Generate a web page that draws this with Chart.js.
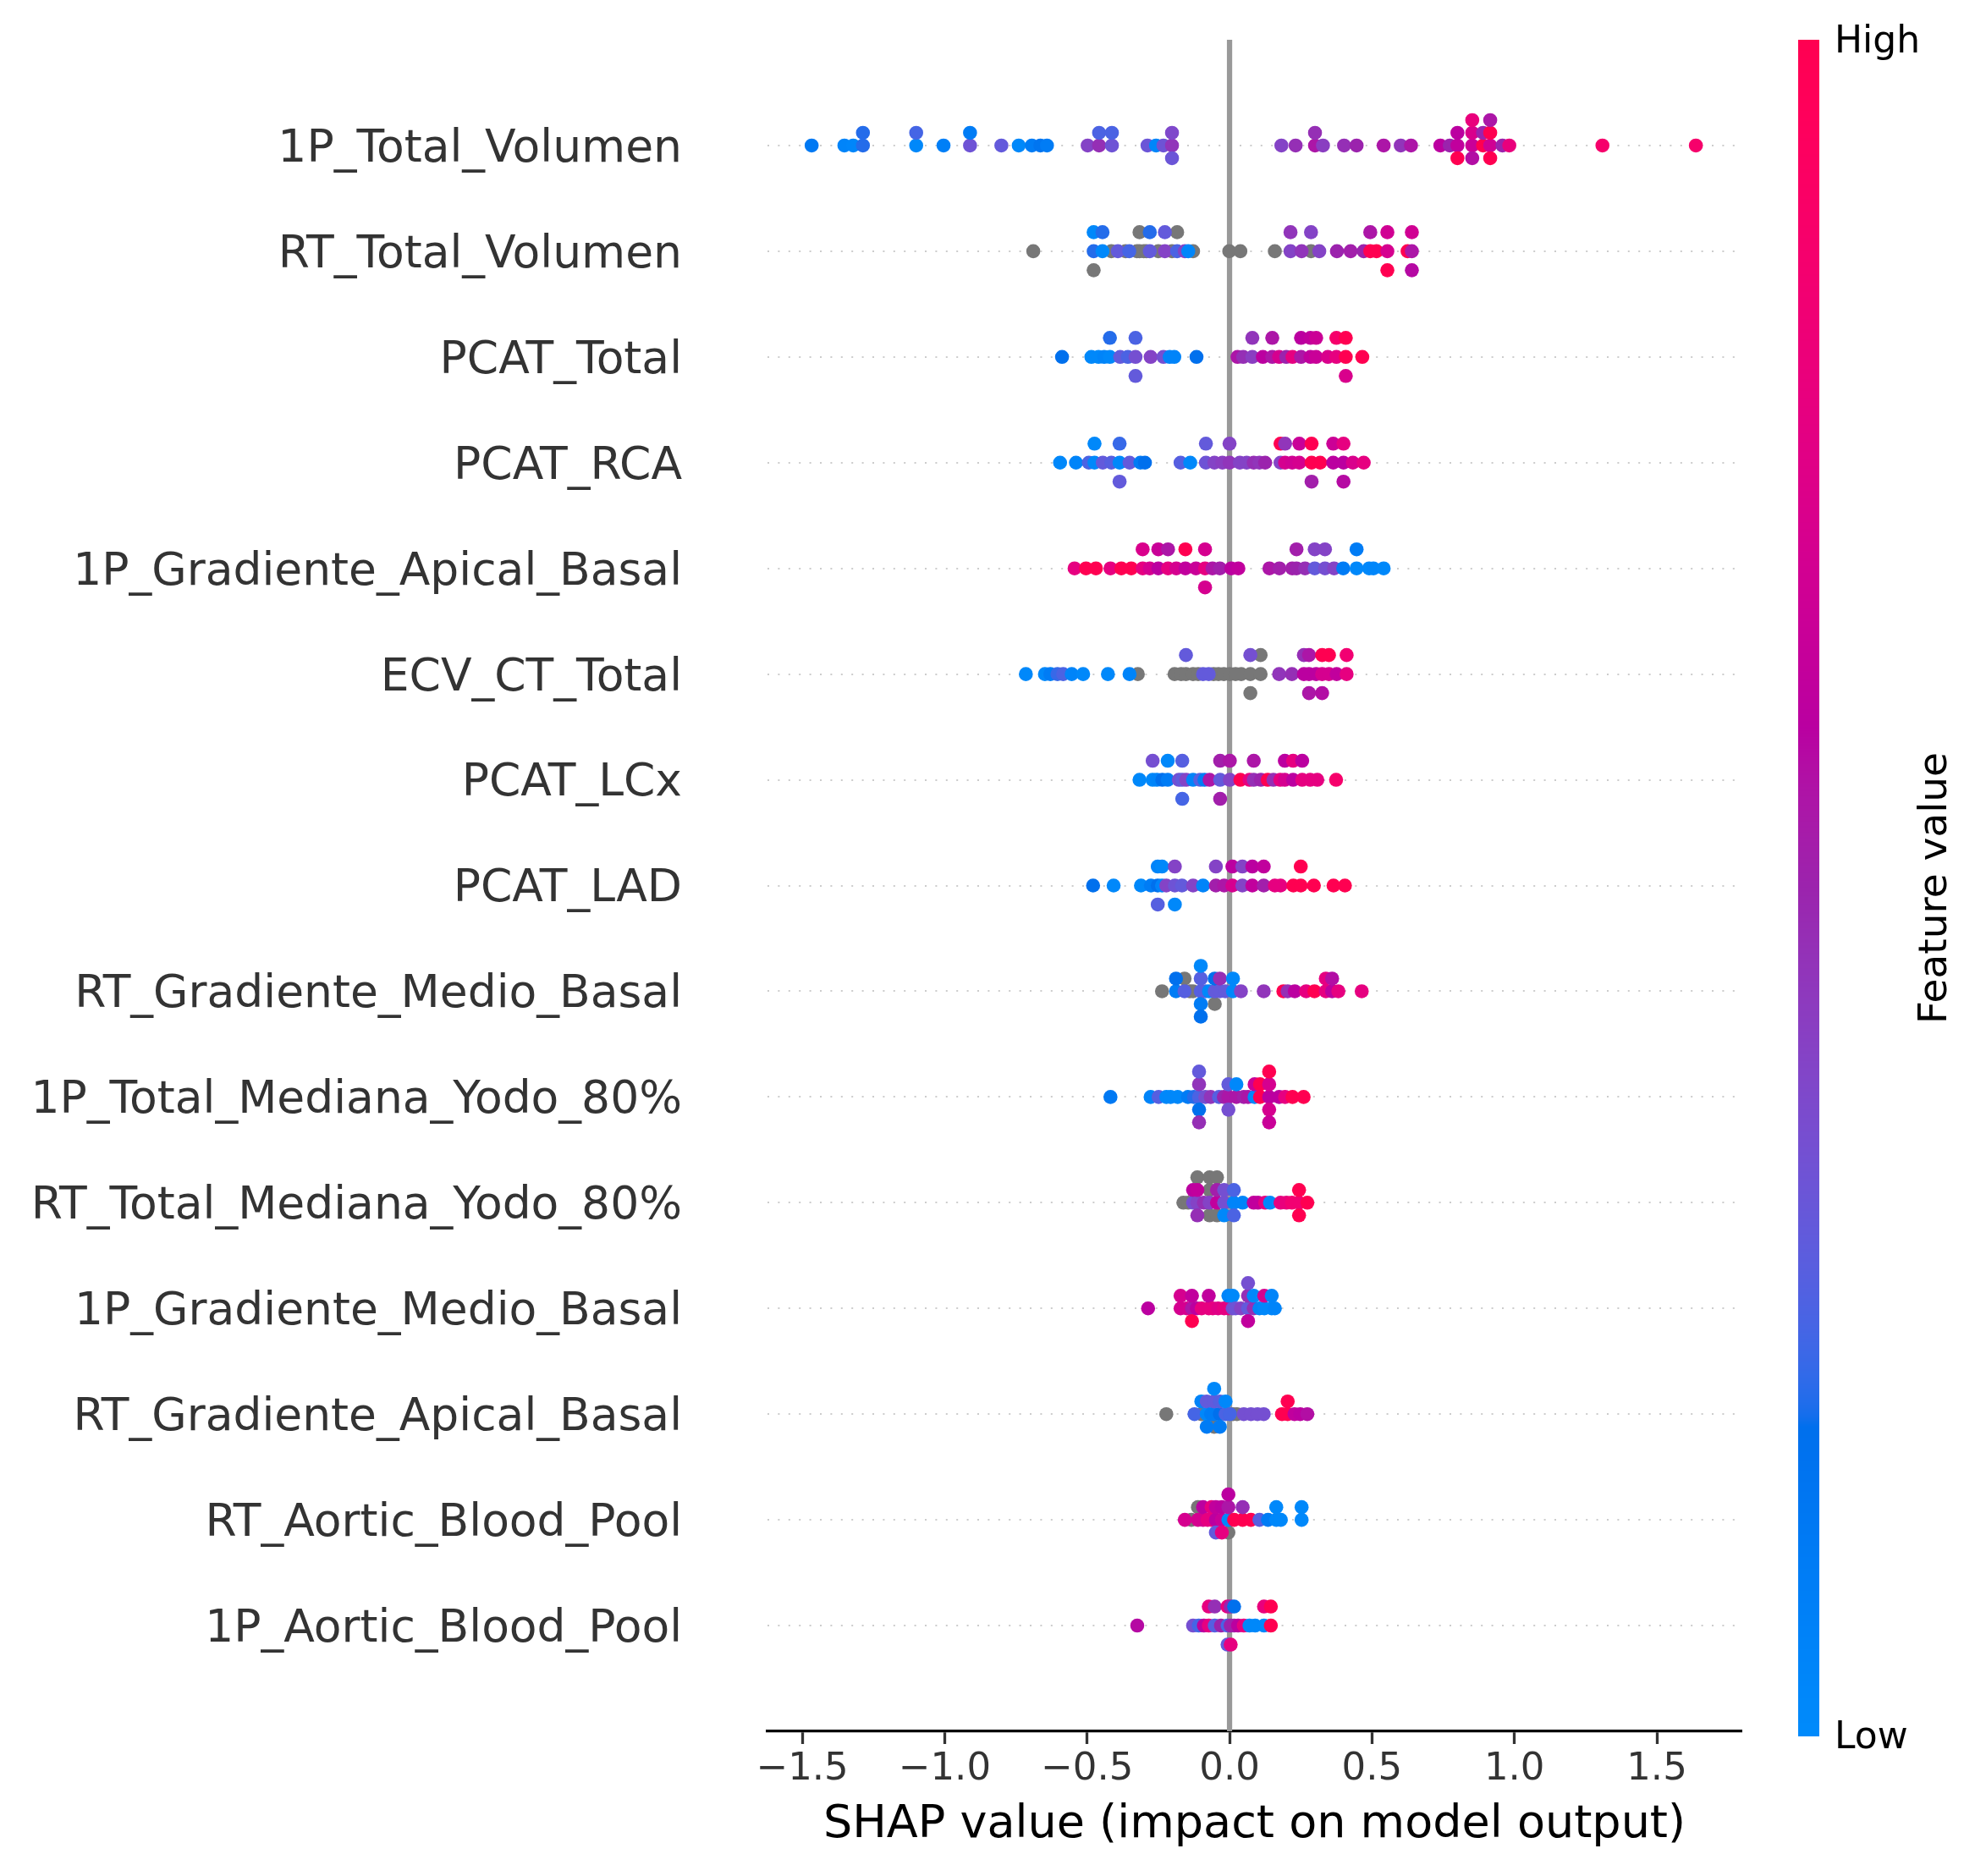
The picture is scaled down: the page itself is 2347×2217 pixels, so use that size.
<!DOCTYPE html>
<html>
<head>
<meta charset="utf-8">
<script src="https://cdn.jsdelivr.net/npm/chart.js@4.4.1/dist/chart.umd.min.js"></script>
<style>
html,body{margin:0;padding:0;background:#ffffff;}
canvas{display:block;}
</style>
</head>
<body>
<canvas id="c" width="2347" height="2217" style="width:2347px;height:2217px"></canvas>
<script>
// ---------------- DATA ----------------
const features = [
  "1P_Total_Volumen", "RT_Total_Volumen", "PCAT_Total", "PCAT_RCA",
  "1P_Gradiente_Apical_Basal", "ECV_CT_Total", "PCAT_LCx", "PCAT_LAD",
  "RT_Gradiente_Medio_Basal", "1P_Total_Mediana_Yodo_80%", "RT_Total_Mediana_Yodo_80%",
  "1P_Gradiente_Medio_Basal", "RT_Gradiente_Apical_Basal", "RT_Aortic_Blood_Pool",
  "1P_Aortic_Blood_Pool"
];
const xTicks = [-1.5, -1.0, -0.5, 0.0, 0.5, 1.0, 1.5];
const xLabel = "SHAP value (impact on model output)";
const colorbarLabels = {high: "High", low: "Low", title: "Feature value"};

// SHAP values per feature (one point per sample) and normalised feature values (null = missing -> gray)
const shap_1P_Total_Volumen = [-1.467, -1.352, -1.321, -1.287, -1.287, -1.100, -1.100, -1.004, -0.911, -0.911, -0.801, -0.740, -0.694, -0.664, -0.641, -0.498, -0.458, -0.458, -0.413, -0.413, -0.288, -0.258, -0.232, -0.202, -0.202, -0.202, 0.182, 0.232, 0.300, 0.300, 0.328, 0.402, 0.446, 0.541, 0.601, 0.637, 0.740, 0.773, 0.800, 0.800, 0.800, 0.852, 0.852, 0.852, 0.852, 0.890, 0.890, 0.915, 0.915, 0.915, 0.915, 0.958, 0.982, 1.309, 1.637];
const feat_1P_Total_Volumen = [0.12, 0.05, 0.03, 0.2, 0.2, 0.02, 0.24, 0.08, 0.33, 0.1, 0.3, 0.02, 0.1, 0.15, 0.1, 0.4, 0.47, 0.25, 0.33, 0.25, 0.32, 0.03, 0.33, 0.45, 0.38, 0.32, 0.4, 0.47, 0.55, 0.47, 0.42, 0.47, 0.5, 0.55, 0.45, 0.55, 0.6, 0.5, 0.62, 0.6, 1.0, 0.65, 0.72, 0.57, 0.8, 1.0, 0.5, 0.68, 1.0, 1.0, 0.55, 0.5, 0.8, 0.88, 0.88];

const shap_RT_Total_Volumen = [-0.689, -0.477, -0.477, -0.477, -0.446, -0.446, -0.415, -0.392, -0.365, -0.352, -0.325, -0.316, -0.316, -0.301, -0.292, -0.280, -0.280, -0.250, -0.227, -0.227, -0.202, -0.184, -0.184, -0.157, -0.145, -0.128, -0.001, 0.038, 0.159, 0.214, 0.214, 0.253, 0.286, 0.286, 0.315, 0.377, 0.425, 0.471, 0.494, 0.494, 0.516, 0.554, 0.554, 0.554, 0.625, 0.640, 0.640, 0.640];
const feat_RT_Total_Volumen = [null, 0.2, 0.02, null, 0.02, 0.2, null, 0.3, null, 0.24, null, null, null, null, null, 0.3, 0.2, null, 0.4, 0.3, null, 0.25, null, 0.4, 0.03, null, null, null, null, 0.4, 0.45, 0.45, null, 0.4, 0.4, 0.5, 0.52, 0.5, 1.0, 0.55, 1.0, 0.7, 0.68, 1.0, 1.0, 0.55, 0.68, 0.58];

const shap_PCAT_Total = [-0.588, -0.485, -0.460, -0.440, -0.420, -0.420, -0.384, -0.357, -0.330, -0.330, -0.330, -0.277, -0.232, -0.210, -0.194, -0.116, 0.028, 0.048, 0.080, 0.080, 0.117, 0.150, 0.150, 0.174, 0.199, 0.221, 0.251, 0.251, 0.284, 0.284, 0.304, 0.304, 0.345, 0.375, 0.375, 0.408, 0.408, 0.408, 0.466];
const feat_PCAT_Total = [0.18, 0.02, 0.02, 0.05, 0.02, 0.2, 0.3, 0.25, 0.35, 0.25, 0.3, 0.4, 0.35, 0.05, 0.05, 0.18, 0.55, 0.47, 0.42, 0.45, 0.6, 0.55, 0.55, 0.7, 0.5, 0.78, 0.55, 0.6, 0.62, 0.62, 0.65, 0.66, 0.72, 0.78, 0.88, 1.0, 1.0, 0.72, 1.0];

const shap_PCAT_RCA = [-0.595, -0.539, -0.494, -0.474, -0.474, -0.445, -0.415, -0.386, -0.386, -0.386, -0.351, -0.313, -0.297, -0.172, -0.138, -0.083, -0.083, -0.053, -0.025, 0.000, 0.000, 0.036, 0.060, 0.085, 0.105, 0.125, 0.179, 0.179, 0.195, 0.195, 0.220, 0.245, 0.245, 0.288, 0.288, 0.288, 0.318, 0.364, 0.364, 0.400, 0.400, 0.400, 0.433, 0.471];
const feat_PCAT_RCA = [0.02, 0.05, 0.25, 0.02, 0.02, 0.3, 0.27, 0.02, 0.22, 0.3, 0.3, 0.1, 0.18, 0.27, 0.02, 0.33, 0.3, 0.4, 0.42, 0.45, 0.4, 0.4, 0.4, 0.47, 0.45, 0.5, 0.4, 1.0, 0.7, 0.45, 0.68, 0.7, 0.65, 1.0, 1.0, 0.52, 1.0, 0.6, 0.66, 0.6, 0.78, 0.58, 0.72, 0.78];

const shap_1P_Gradiente_Apical_Basal = [-0.544, -0.504, -0.469, -0.418, -0.380, -0.345, -0.305, -0.305, -0.280, -0.250, -0.250, -0.216, -0.216, -0.187, -0.155, -0.155, -0.118, -0.086, -0.086, -0.086, -0.060, -0.034, 0.006, 0.031, 0.140, 0.175, 0.220, 0.235, 0.235, 0.265, 0.299, 0.299, 0.335, 0.335, 0.367, 0.399, 0.446, 0.446, 0.490, 0.505, 0.541];
const feat_1P_Gradiente_Apical_Basal = [0.78, 1.0, 1.0, 0.78, 1.0, 1.0, 0.78, 0.72, 0.7, 0.6, 0.65, 0.78, 0.55, 0.7, 0.62, 1.0, 0.65, 0.78, 0.7, 0.7, 0.55, 0.52, 0.6, 0.62, 0.55, 0.52, 0.52, 0.5, 0.52, 0.47, 0.3, 0.4, 0.35, 0.4, 0.4, 0.1, 0.02, 0.1, 0.02, 0.03, 0.02];

const shap_ECV_CT_Total = [-0.715, -0.648, -0.629, -0.604, -0.584, -0.554, -0.514, -0.427, -0.351, -0.322, -0.193, -0.170, -0.153, -0.153, -0.128, -0.110, -0.093, -0.073, -0.056, -0.039, -0.020, 0.001, 0.021, 0.041, 0.073, 0.073, 0.073, 0.109, 0.109, 0.174, 0.219, 0.261, 0.261, 0.279, 0.279, 0.279, 0.304, 0.325, 0.325, 0.325, 0.349, 0.349, 0.376, 0.411, 0.411];
const feat_ECV_CT_Total = [0.02, 0.02, 0.1, 0.22, 0.25, 0.05, 0.02, 0.02, 0.05, null, null, null, null, 0.3, null, null, 0.3, 0.3, null, null, null, null, null, null, null, 0.35, null, null, null, 0.45, 0.47, 0.6, 0.47, 0.6, 0.55, 0.55, 0.6, 0.7, 1.0, 0.57, 0.7, 1.0, 0.62, 0.78, 0.85];

const shap_PCAT_LCx = [-0.316, -0.270, -0.270, -0.255, -0.236, -0.217, -0.217, -0.178, -0.166, -0.166, -0.166, -0.152, -0.128, -0.103, -0.088, -0.070, -0.033, -0.033, -0.033, 0.001, 0.001, 0.038, 0.070, 0.085, 0.085, 0.110, 0.134, 0.154, 0.178, 0.194, 0.194, 0.223, 0.223, 0.255, 0.255, 0.283, 0.308, 0.374];
const feat_PCAT_LCx = [0.02, 0.02, 0.35, 0.05, 0.18, 0.1, 0.02, 0.35, 0.3, 0.27, 0.24, 0.4, 0.05, 0.27, 0.1, 0.55, 0.3, 0.52, 0.52, 0.4, 0.55, 1.0, 0.78, 0.47, 0.55, 0.5, 1.0, 0.47, 0.78, 0.7, 0.6, 0.6, 0.78, 0.78, 0.6, 0.78, 0.78, 0.88];

const shap_PCAT_LAD = [-0.479, -0.407, -0.311, -0.276, -0.252, -0.252, -0.252, -0.237, -0.237, -0.222, -0.192, -0.192, -0.192, -0.167, -0.128, -0.093, -0.048, -0.048, -0.019, 0.010, 0.010, 0.045, 0.045, 0.080, 0.080, 0.120, 0.120, 0.159, 0.179, 0.224, 0.250, 0.250, 0.296, 0.365, 0.405];
const feat_PCAT_LAD = [0.18, 0.02, 0.02, 0.1, 0.18, 0.05, 0.27, 0.05, 0.02, 0.4, 0.33, 0.4, 0.02, 0.3, 0.4, 0.05, 0.52, 0.4, 0.55, 0.7, 0.6, 0.4, 0.4, 0.62, 0.6, 0.52, 0.62, 0.78, 0.78, 1.0, 1.0, 1.0, 1.0, 1.0, 1.0];

const shap_RT_Gradiente_Medio_Basal = [-0.237, -0.188, -0.188, -0.158, -0.158, -0.140, -0.128, -0.101, -0.101, -0.101, -0.101, -0.101, -0.085, -0.072, -0.052, -0.052, -0.052, -0.034, -0.034, -0.015, 0.012, 0.012, 0.040, 0.120, 0.189, 0.204, 0.229, 0.269, 0.298, 0.338, 0.338, 0.360, 0.360, 0.382, 0.464];
const feat_RT_Gradiente_Medio_Basal = [null, 0.1, 0.18, 0.27, null, null, null, 0.27, 0.27, 0.1, 0.02, 0.18, 0.27, 0.02, 0.3, 0.18, null, 0.3, 0.47, 0.3, 0.02, 0.02, 0.4, 0.45, 1.0, 0.47, 0.6, 0.78, 1.0, 0.78, 0.78, 0.6, 0.57, 0.78, 0.78];

const shap_1P_Total_Mediana_Yodo_80 = [-0.418, -0.277, -0.249, -0.222, -0.207, -0.182, -0.146, -0.125, -0.107, -0.107, -0.107, -0.107, -0.107, -0.085, -0.066, -0.037, -0.020, -0.004, -0.004, -0.004, 0.024, 0.024, 0.050, 0.065, 0.088, 0.088, 0.107, 0.107, 0.139, 0.139, 0.139, 0.139, 0.139, 0.174, 0.195, 0.221, 0.260];
const feat_1P_Total_Mediana_Yodo_80 = [0.12, 0.05, 0.27, 0.02, 0.02, 0.02, 0.1, 0.2, 0.25, 0.45, 0.18, 0.3, 0.47, 0.35, 0.45, 0.27, 0.5, 0.55, 0.3, 0.35, 0.55, 0.02, 0.52, 0.55, 0.02, 0.65, 1.0, 1.0, 0.6, 0.7, 0.7, 1.0, 0.65, 0.6, 0.78, 1.0, 1.0];

const shap_RT_Total_Mediana_Yodo_80 = [-0.162, -0.145, -0.128, -0.128, -0.113, -0.113, -0.113, -0.113, -0.090, -0.070, -0.070, -0.070, -0.070, -0.044, -0.044, -0.044, -0.044, -0.019, -0.019, -0.019, 0.015, 0.015, 0.015, 0.046, 0.085, 0.100, 0.125, 0.142, 0.179, 0.200, 0.219, 0.244, 0.244, 0.244, 0.273];
const feat_RT_Total_Mediana_Yodo_80 = [null, null, 0.35, 0.6, 0.4, 0.62, 0.47, null, 0.47, 0.4, null, null, null, 0.62, 0.52, null, null, 0.35, 0.35, 0.02, 0.05, 0.25, 0.25, 0.05, 0.62, 0.62, 0.78, 0.02, 0.78, 0.8, 0.85, 0.85, 1.0, 1.0, 1.0];

const shap_1P_Gradiente_Medio_Basal = [-0.286, -0.172, -0.172, -0.150, -0.132, -0.132, -0.132, -0.115, -0.098, -0.073, -0.073, -0.059, -0.040, -0.019, -0.004, -0.004, 0.011, 0.011, 0.021, 0.040, 0.065, 0.065, 0.065, 0.065, 0.085, 0.085, 0.105, 0.122, 0.122, 0.148, 0.148, 0.159];
const feat_1P_Gradiente_Medio_Basal = [0.6, 0.7, 0.7, 0.7, 0.55, 0.62, 1.0, 0.6, 0.78, 0.78, 0.62, 0.78, 0.75, 0.78, 0.78, 0.05, 0.35, 0.02, 0.33, 0.4, 0.3, 0.47, 0.62, 0.35, 0.47, 0.02, 0.05, 0.02, 0.7, 0.02, 0.05, 0.05];

const shap_RT_Gradiente_Apical_Basal = [-0.222, -0.123, -0.099, -0.099, -0.080, -0.080, -0.080, -0.065, -0.054, -0.054, -0.054, -0.054, -0.034, -0.034, -0.034, -0.014, -0.014, 0.001, 0.012, 0.026, 0.050, 0.075, 0.098, 0.120, 0.184, 0.204, 0.204, 0.228, 0.248, 0.273];
const feat_RT_Gradiente_Apical_Basal = [null, 0.24, null, 0.05, 0.02, 0.3, 0.1, 0.1, 0.1, 0.3, null, 0.02, 0.18, 0.27, 0.1, 0.25, 0.02, 0.24, null, null, 0.35, 0.35, 0.35, 0.35, 1.0, 1.0, 1.0, 0.62, 0.6, 0.57];

const shap_RT_Aortic_Blood_Pool = [-0.157, -0.134, -0.111, -0.111, -0.093, -0.093, -0.077, -0.063, -0.063, -0.048, -0.048, -0.048, -0.027, -0.027, -0.027, -0.004, -0.004, -0.004, -0.004, 0.016, 0.046, 0.046, 0.075, 0.105, 0.135, 0.164, 0.164, 0.180, 0.253, 0.253];
const feat_RT_Aortic_Blood_Pool = [0.7, null, 0.7, null, 0.7, 0.6, 0.78, 0.78, 0.78, 0.6, 0.62, 0.3, 0.65, 0.6, 0.78, 0.02, 0.55, null, 0.6, 1.0, 1.0, 0.47, 1.0, 0.27, 0.1, 0.02, 0.02, 0.02, 0.02, 0.02];

const shap_1P_Aortic_Blood_Pool = [-0.324, -0.128, -0.108, -0.090, -0.073, -0.073, -0.052, -0.052, -0.030, -0.007, -0.007, -0.007, 0.004, 0.004, 0.004, 0.016, 0.016, 0.030, 0.050, 0.070, 0.090, 0.121, 0.121, 0.145, 0.145];
const feat_1P_Aortic_Blood_Pool = [0.58, 0.35, 0.24, 0.6, 0.78, 0.78, 0.27, 0.47, 0.5, 0.25, 0.78, 0.3, 0.5, 0.5, 0.78, 0.52, 0.18, 0.6, 0.78, 0.02, 0.02, 0.02, 0.8, 1.0, 1.0];

const shapRows = [shap_1P_Total_Volumen, shap_RT_Total_Volumen, shap_PCAT_Total, shap_PCAT_RCA,
  shap_1P_Gradiente_Apical_Basal, shap_ECV_CT_Total, shap_PCAT_LCx, shap_PCAT_LAD,
  shap_RT_Gradiente_Medio_Basal, shap_1P_Total_Mediana_Yodo_80, shap_RT_Total_Mediana_Yodo_80,
  shap_1P_Gradiente_Medio_Basal, shap_RT_Gradiente_Apical_Basal, shap_RT_Aortic_Blood_Pool,
  shap_1P_Aortic_Blood_Pool];
const featRows = [feat_1P_Total_Volumen, feat_RT_Total_Volumen, feat_PCAT_Total, feat_PCAT_RCA,
  feat_1P_Gradiente_Apical_Basal, feat_ECV_CT_Total, feat_PCAT_LCx, feat_PCAT_LAD,
  feat_RT_Gradiente_Medio_Basal, feat_1P_Total_Mediana_Yodo_80, feat_RT_Total_Mediana_Yodo_80,
  feat_1P_Gradiente_Medio_Basal, feat_RT_Gradiente_Apical_Basal, feat_RT_Aortic_Blood_Pool,
  feat_1P_Aortic_Blood_Pool];

// ---------------- STYLE HELPERS ----------------
// SHAP "red_blue" colormap (interpolated in LCH space)
function redBlue(t) {
  t = Math.min(1, Math.max(0, t));
  const L = t < 0.5 ? 54 + (40 - 54) * (t / 0.5) : 40 + (54 - 40) * ((t - 0.5) / 0.5);
  const C = 70 + (90 - 70) * t;
  const H = 4.6588 + (0.35470565 + 2 * Math.PI - 4.6588) * t;
  const a = C * Math.cos(H), b = C * Math.sin(H);
  const fy = (L + 16) / 116, fx = fy + a / 500, fz = Math.max(0, fy - b / 200);
  const inv = v => v > 0.2068966 ? v * v * v : (v - 16 / 116) / 7.787;
  const X = 0.95047 * inv(fx), Y = inv(fy), Z = 1.08883 * inv(fz);
  let r = 3.24048134 * X - 1.53715152 * Y - 0.49853633 * Z;
  let g = -0.96925495 * X + 1.87599 * Y + 0.04155593 * Z;
  let bb = 0.05564664 * X - 0.20404134 * Y + 1.05731107 * Z;
  const gam = c => { c = c > 0.0031308 ? 1.055 * Math.pow(c, 1 / 2.4) - 0.055 : 12.92 * c; return Math.round(255 * Math.min(1, Math.max(0, c))); };
  return `rgb(${gam(r)},${gam(g)},${gam(bb)})`;
}

// SHAP beeswarm vertical layout (same algorithm as shap.summary_plot)
function swarmOffsets(vals) {
  const nbins = 100;
  const mn = Math.min(...vals), mx = Math.max(...vals);
  const quant = vals.map(v => Math.round(nbins * (v - mn) / (mx - mn + 1e-8)));
  const inds = vals.map((_, i) => i).sort((p, q) => (quant[p] - quant[q]) || (p - q));
  const ys = new Array(vals.length).fill(0);
  let layer = 0, last = -1;
  for (const i of inds) {
    if (quant[i] !== last) layer = 0;
    ys[i] = Math.ceil(layer / 2) * ((layer % 2) * 2 - 1);
    layer++; last = quant[i];
  }
  const m = Math.max(...ys.map(y => y + 1));
  return ys.map(y => y * 0.9 * (0.4 / m));
}

const coloredPts = [], coloredCols = [], grayPts = [];
features.forEach((f, r) => {
  const s = shapRows[r], fv = featRows[r], off = swarmOffsets(s);
  s.forEach((v, i) => {
    const pt = {x: v, y: r - off[i]};
    if (fv[i] === null) grayPts.push(pt);
    else { coloredPts.push(pt); coloredCols.push(redBlue(fv[i])); }
  });
});

const FONT = "'DejaVu Sans', 'Liberation Sans', sans-serif";
Chart.defaults.font.family = FONT;

const bgLines = {
  id: 'bgLines',
  beforeDatasetsDraw(chart) {
    const {ctx, chartArea: a, scales: {x, y}} = chart;
    ctx.save();
    ctx.strokeStyle = '#cccccc';
    ctx.lineWidth = 2;
    ctx.setLineDash([2, 10.4]);
    features.forEach((f, i) => {
      const py = Math.round(y.getPixelForValue(i));
      ctx.beginPath(); ctx.moveTo(a.left, py); ctx.lineTo(a.right, py); ctx.stroke();
    });
    ctx.setLineDash([]);
    ctx.strokeStyle = '#999999';
    ctx.lineWidth = 6.25;
    const px = x.getPixelForValue(0);
    ctx.beginPath(); ctx.moveTo(px, a.top); ctx.lineTo(px, a.bottom); ctx.stroke();
    ctx.restore();
  }
};

const colorbar = {
  id: 'colorbar',
  afterDraw(chart) {
    const {ctx, chartArea: a} = chart;
    const left = a.right + 67, w = 25, top = a.top, bottom = a.bottom + 6;
    ctx.save();
    for (let py = Math.floor(top); py < bottom; py++) {
      const t = 1 - (py + 0.5 - top) / (bottom - top);
      ctx.fillStyle = redBlue(t);
      ctx.fillRect(left, py, w, 1);
    }
    ctx.fillStyle = '#000000';
    ctx.font = `44px ${FONT}`;
    ctx.textAlign = 'left';
    ctx.textBaseline = 'middle';
    ctx.fillText(colorbarLabels.high, left + w + 18, top + 4);
    ctx.fillText(colorbarLabels.low, left + w + 18, bottom + 3);
    ctx.translate(2288, (top + bottom) / 2);
    ctx.rotate(-Math.PI / 2);
    ctx.textAlign = 'center';
    ctx.font = `47px ${FONT}`;
    ctx.fillText(colorbarLabels.title, 0, 0);
    ctx.restore();
  }
};

new Chart(document.getElementById('c'), {
  type: 'scatter',
  data: {
    datasets: [
      {label: 'values', data: coloredPts, pointBackgroundColor: coloredCols, pointBorderColor: coloredCols,
       pointBorderWidth: 0, pointRadius: 8.3, pointHoverRadius: 8.3, order: 1},
      {label: 'missing', data: grayPts, pointBackgroundColor: '#777777', pointBorderColor: '#777777',
       pointBorderWidth: 0, pointRadius: 8.3, pointHoverRadius: 8.3, order: 2}
    ]
  },
  options: {
    responsive: false,
    devicePixelRatio: 1,
    animation: false,
    events: [],
    layout: {padding: {top: 47, right: 289, bottom: 0, left: 0}},
    plugins: {legend: {display: false}, tooltip: {enabled: false}},
    scales: {
      x: {
        type: 'linear', min: -1.622, max: 1.797,
        afterBuildTicks: s => { s.ticks = xTicks.map(v => ({value: v})); },
        afterFit: s => { s.height = 171; s.paddingLeft = 0; s.paddingRight = 0; },
        ticks: {autoSkip: false, maxRotation: 0, padding: 3, color: '#333333', font: {size: 45},
                callback: v => Number(v).toFixed(1).replace('-', '\u2212')},
        grid: {display: true, drawOnChartArea: false, drawTicks: true, tickLength: 15, tickWidth: 3.3,
               tickColor: '#333333', color: 'rgba(0,0,0,0)'},
        border: {display: true, color: '#000000', width: 3.3},
        title: {display: true, text: xLabel, color: '#000000', font: {size: 54}, padding: {top: 0, bottom: 28}}
      },
      y: {
        type: 'linear', min: -1, max: 15, reverse: true,
        afterBuildTicks: s => { s.ticks = features.map((_, i) => ({value: i})); },
        afterFit: s => { s.width = 907; s.paddingTop = 0; s.paddingBottom = 0; },
        ticks: {autoSkip: false, padding: 101, labelOffset: 5, color: '#333333', font: {size: 53.5},
                callback: v => features[v]},
        grid: {display: false, drawTicks: false},
        border: {display: false}
      }
    }
  },
  plugins: [bgLines, colorbar]
});
</script>
</body>
</html>
